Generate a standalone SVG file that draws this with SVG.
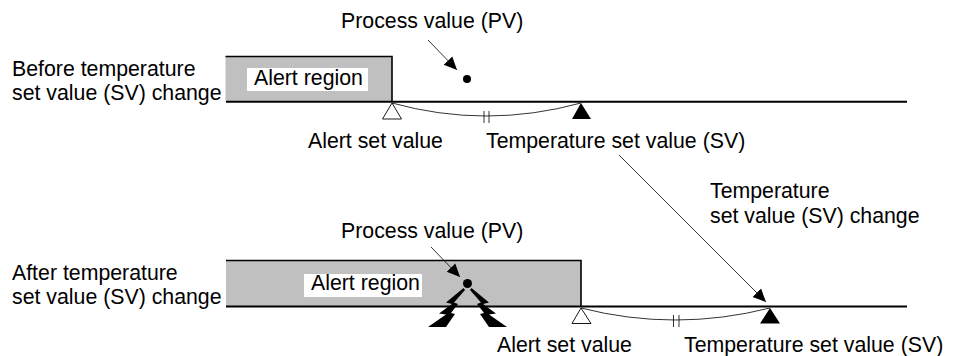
<svg xmlns="http://www.w3.org/2000/svg" width="959" height="356" viewBox="0 0 959 356">
<style>
text{font-family:"Liberation Sans",Arial,sans-serif;font-size:21.3px;fill:#000}
.fill{fill:#c0c0c0}
.edge{fill:none;stroke:#000;stroke-width:1.6}
.axis{stroke:#000;stroke-width:2;fill:none}
.thin{stroke:#000;stroke-width:.8;fill:none}
.white{fill:#fff;stroke:#000;stroke-width:.9}
.solid{fill:#000}
.lbl{fill:#fff}
</style>
<defs>
<marker id="ah" markerUnits="userSpaceOnUse" markerWidth="14" markerHeight="14" viewBox="0 0 14 14" refX="13" refY="7" orient="auto"><path d="M0,1 L13,7 L0,13 Z" fill="#000"/></marker>
</defs>
<g id="before-label"><text x="12" y="75.500">Before temperature</text><text x="12" y="100">set value (SV) change</text></g>
<g id="before-region"><rect class="fill" x="225.500" y="56.500" width="166.500" height="45"/><path class="edge" d="M225.500,56.500H392V101.500"/><rect class="lbl" x="247" y="68" width="121" height="23"/><text x="254" y="85">Alert region</text></g>
<g id="before-pv"><text x="341" y="28">Process value (PV)</text><circle cx="467" cy="79" r="4"/></g>
<g id="before-alert"><path class="white" d="M392,103L401.500,119H382.500Z"/><text x="308" y="148">Alert set value</text></g>
<g id="before-sv"><path class="solid" d="M581,103L591,119H572Z"/><text x="486" y="148">Temperature set value (SV)</text></g>
<g id="change-label"><text x="710" y="198">Temperature</text><text x="710" y="222.500">set value (SV) change</text></g>
<g id="after-label"><text x="12" y="280">After temperature</text><text x="12" y="304">set value (SV) change</text></g>
<g id="after-region"><rect class="fill" x="226" y="260.500" width="355" height="45.500"/><path class="edge" d="M226,260.500H581V306"/><rect class="lbl" x="304" y="274" width="118" height="23"/><text x="311" y="290">Alert region</text></g>
<g id="after-pv"><text x="341" y="238">Process value (PV)</text><circle cx="467.500" cy="283.500" r="4.500"/></g>
<g id="alarm"><path class="solid" d="M463.500,288L446,302.500L452,304L439,313.500L446,314.500L428,327H446L455,314L451,313L458,304L454,302.500L465,290Z"/><path class="solid" d="M471.500,288L489,302.500L483,304L496,313.500L489,314.500L507,327H489L480,314L484,313L477,304L481,302.500L470,290Z"/></g>
<g id="after-alert"><path class="white" d="M581,308L591,323.500H572Z"/><text x="497" y="352">Alert set value</text></g>
<g id="after-sv"><path class="solid" d="M770,308L780,323.500H760Z"/><text x="684" y="352">Temperature set value (SV)</text></g>
<g id="connectors">
<path class="axis" d="M226,101.700H907"/>
<path class="axis" d="M226,306.500H907"/>
<path class="thin" d="M392,103Q486,129 581,103"/>
<path class="thin" d="M484,111V123M489,111V123"/>
<path class="thin" d="M581,308Q675,332 770,308"/>
<path class="thin" d="M673.500,315V327M679,315V327"/>
<path class="thin" marker-end="url(#ah)" d="M428,40L457,70"/>
<path class="thin" marker-end="url(#ah)" d="M431,247L460,277"/>
<path class="thin" marker-end="url(#ah)" d="M619,155L766,302"/>
</g>
</svg>
